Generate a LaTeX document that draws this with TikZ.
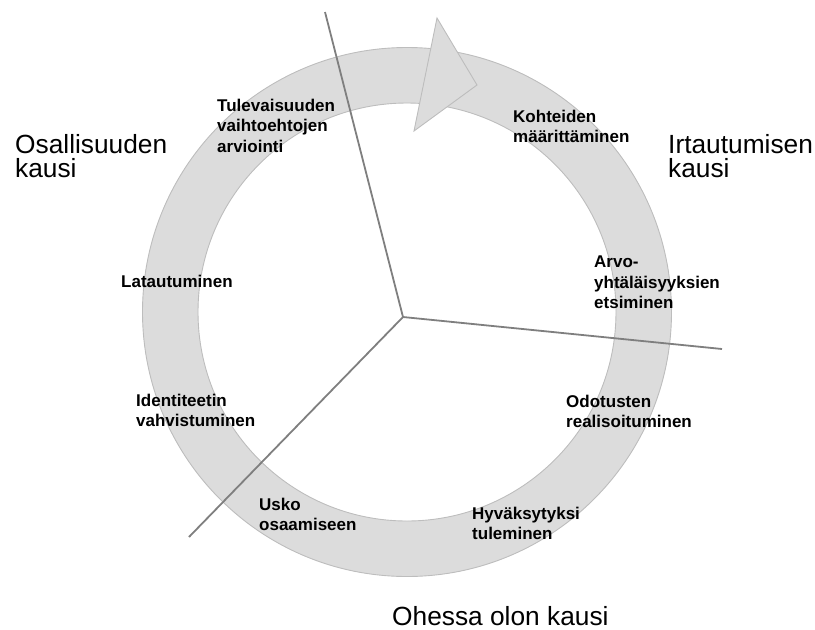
\documentclass[tikz,border=0pt]{standalone}
\usepackage{fontspec}
\setmainfont{Liberation Sans}
\definecolor{ringfill}{HTML}{DCDCDC}
\definecolor{ringline}{HTML}{BDBDBD}
\definecolor{divline}{HTML}{7F7F7F}
\tikzset{
  stage/.style={anchor=north west, inner sep=0pt, align=left, font=\fontsize{17}{20.5}\selectfont\bfseries},
  season/.style={anchor=north west, inner sep=0pt, align=left, font=\fontsize{26.3}{24}\selectfont},
  divider/.style={draw=divline, line width=1.8pt},
  ringstyle/.style={fill=ringfill, draw=ringline, line width=0.9pt}
}
\begin{document}
\begin{tikzpicture}[x=1pt, y=-1pt]
\useasboundingbox (0,0) rectangle (815,630);
% ring
\coordinate (c) at (407,312);
\fill[ringfill, even odd rule] (c) circle [radius=264.5pt] (c) circle [radius=209pt];
\draw[ringline, line width=0.9pt] (c) circle [radius=264.5pt];
\draw[ringline, line width=0.9pt] (c) circle [radius=209pt];
% arrow head
\coordinate (h1) at (437,18);
\coordinate (h2) at (477,85);
\coordinate (h3) at (414,131);
\draw[ringstyle, line join=miter] (h1) -- (h2) -- (h3) -- cycle;
% dividers
\coordinate (hub) at (403,317);
\coordinate (e1) at (325,12);
\coordinate (e2) at (722,349);
\coordinate (e3) at (189,537);
\draw[divider] (hub) -- (e1);
\draw[divider] (hub) -- (e2);
\draw[divider] (hub) -- (e3);
% stage labels
\node[stage] (s1) at (217,98.8) {Tulevaisuuden\\vaihtoehtojen\\arviointi};
\node[stage] (s2) at (513,109.8) {Kohteiden\\määrittäminen};
\node[stage] (s3) at (121,274.8) {Latautuminen};
\node[stage] (s4) at (594,255.8) {Arvo-\\yhtäläisyyksien\\etsiminen};
\node[stage] (s5) at (136,393.8) {Identiteetin\\vahvistuminen};
\node[stage] (s6) at (566,394.8) {Odotusten\\realisoituminen};
\node[stage] (s7) at (259,497.8) {Usko\\osaamiseen};
\node[stage] (s8) at (472,506.8) {Hyväksytyksi\\tuleminen};
% season labels
\node[season] (k1) at (15,134) {Osallisuuden\\kausi};
\node[season] (k2) at (668,134) {Irtautumisen\\kausi};
\node[anchor=base west, inner sep=0pt, font=\fontsize{26.3}{24}\selectfont] (k3) at (392,625) {Ohessa olon kausi};
\end{tikzpicture}
\end{document}
